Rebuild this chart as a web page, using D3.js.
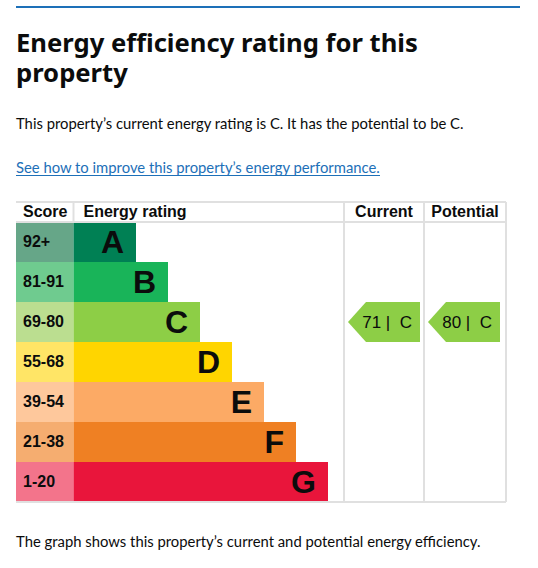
<!DOCTYPE html>
<html>
<head>
<meta charset="utf-8">
<script src="https://cdn.jsdelivr.net/npm/d3@7"></script>
<style>
  body { margin: 0; background: #fff; }
  svg { display: block; }
</style>
</head>
<body>
<div id="chart"></div>
<script>
// rating bands, top (best) to bottom
const bands = ["A", "B", "C", "D", "E", "F", "G"];
const scoreRanges = ["92+", "81-91", "69-80", "55-68", "39-54", "21-38", "1-20"];
const bandColors = ["#008054", "#19b459", "#8dce46", "#ffd500", "#fcaa65", "#ef8023", "#e9153b"];
const scoreColors = ["#66a688", "#6fcb8f", "#bbde90", "#ffe566", "#fec89c", "#f5ad70", "#f3748b"];
const columns = ["Score", "Energy rating", "Current", "Potential"];

const currentScore = 71, currentBand = "C";
const potentialScore = 80, potentialBand = "C";

const width = 538, height = 568;
const titleFont = "'Noto Sans', sans-serif";
const bodyFont = "Lato, 'Noto Sans', sans-serif";
const tableFont = "'Liberation Sans', Arial, sans-serif";

const svg = d3.select("#chart").append("svg")
  .attr("width", width)
  .attr("height", height);

// grow/shrink a text's font so it takes a given width
function fitWidth(sel, target, node) {
  const base = parseFloat(sel.attr("font-size"));
  const len = (node || sel.node()).getComputedTextLength();
  sel.attr("font-size", base * target / len);
}

// blue rule on top
svg.append("rect")
  .attr("x", 16).attr("y", 6)
  .attr("width", 504).attr("height", 2)
  .attr("fill", "#1d70b8");

// title, two lines in one text
const title = svg.append("text")
  .attr("font-family", titleFont).attr("font-weight", 700)
  .attr("font-size", 27).attr("fill", "#0b0c0c");
const line1 = title.append("tspan").attr("x", 16).attr("y", 52)
  .text("Energy efficiency rating for this");
title.append("tspan").attr("x", 16).attr("y", 82).text("property");
fitWidth(title, 402, line1.node());

const p1 = svg.append("text")
  .attr("x", 16).attr("y", 129)
  .attr("font-family", bodyFont).attr("font-size", 16).attr("fill", "#0b0c0c")
  .text("This property’s current energy rating is C. It has the potential to be C.");
fitWidth(p1, 448);

const link = svg.append("text")
  .attr("x", 16).attr("y", 173)
  .attr("font-family", bodyFont).attr("font-size", 16).attr("fill", "#1d70b8")
  .text("See how to improve this property’s energy performance.");
fitWidth(link, 364);
svg.append("line")
  .attr("x1", 16).attr("x2", 380)
  .attr("y1", 175.5).attr("y2", 175.5)
  .attr("stroke", "#1d70b8").attr("stroke-width", 1);

const foot = svg.append("text")
  .attr("x", 16).attr("y", 547)
  .attr("font-family", bodyFont).attr("font-size", 15).attr("fill", "#0b0c0c")
  .text("The graph shows this property’s current and potential energy efficiency.");
fitWidth(foot, 465);

// table geometry
const tableLeft = 16, tableRight = 506;
const headTop = 202, headBottom = 222, tableBottom = 502;
const scoreRight = 73.5, currentLeft = 344, potentialLeft = 424;

const y = d3.scaleBand().domain(bands).range([headBottom, tableBottom]);
// bar end grows with band rank
const barEnd = d3.scaleLinear().domain([0, bands.length - 1]).range([136, 328]);

const rows = svg.append("g").selectAll("g")
  .data(bands)
  .join("g");

rows.append("rect")
  .attr("x", tableLeft).attr("y", d => y(d))
  .attr("width", scoreRight - tableLeft).attr("height", y.bandwidth())
  .attr("fill", (d, i) => scoreColors[i]);

rows.append("rect")
  .attr("x", scoreRight).attr("y", d => y(d))
  .attr("width", (d, i) => barEnd(i) - scoreRight).attr("height", y.bandwidth())
  .attr("fill", (d, i) => bandColors[i]);

rows.append("text")
  .attr("x", tableLeft + 7)
  .attr("y", d => y(d) + y.bandwidth() / 2 + 5)
  .attr("font-family", tableFont).attr("font-weight", 700)
  .attr("font-size", 16).attr("fill", "#0b0c0c")
  .text((d, i) => scoreRanges[i]);

rows.append("text")
  .attr("x", (d, i) => barEnd(i) - 12)
  .attr("y", d => y(d) + y.bandwidth() / 2 + 11)
  .attr("text-anchor", "end")
  .attr("font-family", tableFont).attr("font-weight", 700)
  .attr("font-size", 32).attr("fill", "#0b0c0c")
  .text(d => d);

// grid lines
const grid = svg.append("g")
  .attr("stroke", "#e0e0e0").attr("stroke-width", 2).attr("fill", "none");
[headTop, headBottom, tableBottom].forEach(v => {
  grid.append("line").attr("x1", tableLeft).attr("x2", tableRight).attr("y1", v).attr("y2", v);
});
[currentLeft, potentialLeft, tableRight].forEach(v => {
  grid.append("line").attr("x1", v).attr("x2", v).attr("y1", headTop).attr("y2", tableBottom);
});
grid.append("line").attr("x1", scoreRight).attr("x2", scoreRight).attr("y1", headTop).attr("y2", headBottom);

// header labels
const headX = [tableLeft + 7, scoreRight + 10, (currentLeft + potentialLeft) / 2, (potentialLeft + tableRight) / 2];
svg.append("g").selectAll("text")
  .data(columns)
  .join("text")
  .attr("x", (d, i) => headX[i])
  .attr("y", 217)
  .attr("text-anchor", (d, i) => i < 2 ? "start" : "middle")
  .attr("font-family", tableFont).attr("font-weight", 700)
  .attr("font-size", 16).attr("fill", "#0b0c0c")
  .text(d => d);

// current / potential arrows
const arrows = [
  { score: currentScore, band: currentBand, left: currentLeft + 4, right: potentialLeft - 4 },
  { score: potentialScore, band: potentialBand, left: potentialLeft + 4, right: tableRight - 6 }
];

const ag = svg.append("g").selectAll("g")
  .data(arrows)
  .join("g");

ag.append("polygon")
  .attr("points", d => {
    const top = y(d.band), bot = top + y.bandwidth(), mid = top + y.bandwidth() / 2;
    return [[d.left, mid], [d.left + 18, top], [d.right, top], [d.right, bot], [d.left + 18, bot]]
      .map(p => p.join(",")).join(" ");
  })
  .attr("fill", d => bandColors[bands.indexOf(d.band)]);

ag.append("text")
  .attr("x", d => d.right - 8)
  .attr("y", d => y(d.band) + y.bandwidth() / 2 + 6)
  .attr("text-anchor", "end")
  .attr("font-family", tableFont).attr("font-size", 17).attr("fill", "#0b0c0c")
  .style("white-space", "pre")
  .text(d => d.score + " |  " + d.band);
</script>
</body>
</html>
